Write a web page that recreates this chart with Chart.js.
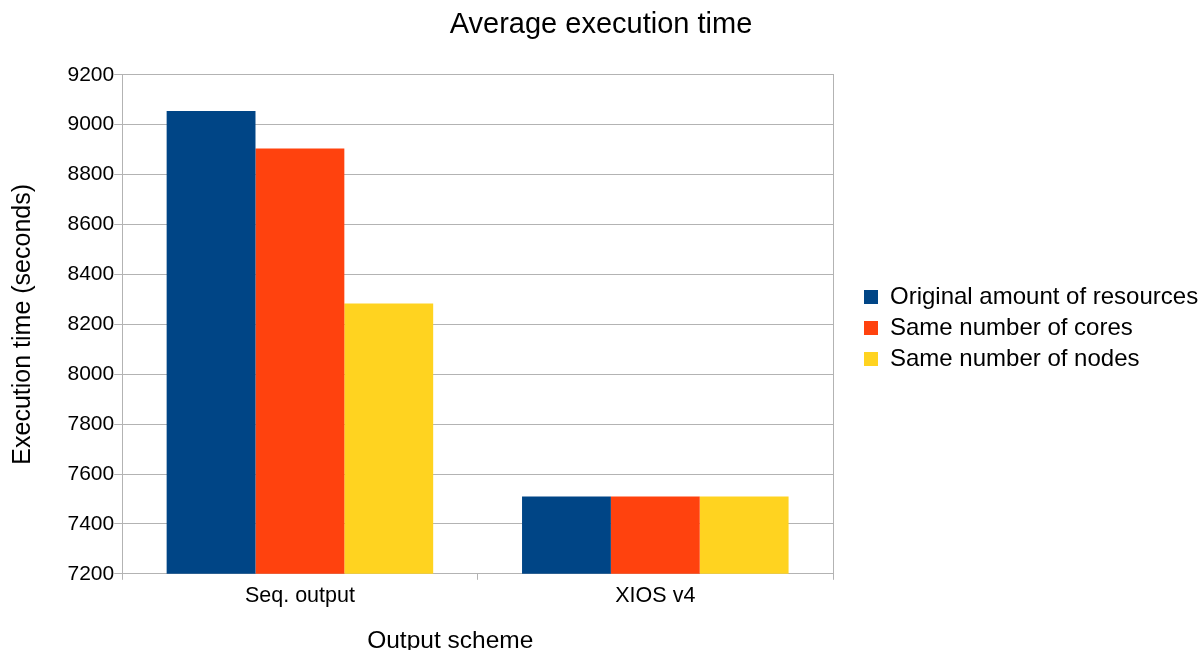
<!DOCTYPE html>
<html>
<head>
<meta charset="utf-8">
<script src="https://cdn.jsdelivr.net/npm/chart.js@4"></script>
<style>
	html, body { margin: 0; padding: 0; background: #ffffff; }
	#wrap { width: 1202px; height: 650px; }
</style>
</head>
<body>
<div id="wrap"><canvas id="chart" width="1202" height="650"></canvas></div>
<script>

const categories = [ 'Seq. output', 'XIOS v4' ];
const seriesNames = [ 'Original amount of resources', 'Same number of cores', 'Same number of nodes' ];
const originalResources = [ 9055, 7510 ];
const sameCores = [ 8905, 7510 ];
const sameNodes = [ 8283, 7510 ];
const colours = [ '#004586', '#ff420e', '#ffd320' ];

const font = 'Liberation Sans';
const gridColour = '#b3b3b3';
const xTitle = 'Output scheme';
const xTitleSize = 24.5;
const yTickSize = 21;

Chart.defaults.font.family = font;
Chart.defaults.color = '#000000';

// the x axis title is centred across tick labels + plot, not the plot alone
const xTitlePlugin = {
	id: 'xTitle',
	afterDraw ( chart ) {

		const { ctx, chartArea, scales } = chart;
		const yScale = scales.y;

		ctx.save();
		ctx.font = yTickSize + 'px "' + font + '"';
		const widest = Math.max( ...yScale.ticks.map( t => ctx.measureText( String( t.value ) ).width ) );
		const left = chartArea.left - yScale.options.grid.tickLength - widest;

		ctx.font = xTitleSize + 'px "' + font + '"';
		ctx.fillStyle = '#000000';
		ctx.textAlign = 'center';
		ctx.textBaseline = 'middle';
		ctx.fillText( xTitle, ( left + chartArea.right ) / 2, scales.x.bottom - xTitleSize * 1.2 / 2 );
		ctx.restore();

	}
};

const config = {
	type: 'bar',
	data: {
		labels: categories,
		datasets: [ originalResources, sameCores, sameNodes ].map( ( values, i ) => ( {
			label: seriesNames[ i ],
			data: values,
			backgroundColor: colours[ i ],
			borderWidth: 0,
			categoryPercentage: 0.75,
			barPercentage: 1
		} ) )
	},
	options: {
		responsive: false,
		animation: false,
		layout: {
			padding: { left: 4, right: 4, top: 0, bottom: -6 }
		},
		plugins: {
			tooltip: { enabled: false },
			title: {
				display: true,
				text: 'Average execution time',
				font: { size: 29, weight: 'normal' },
				padding: { top: 8, bottom: 32 }
			},
			legend: {
				position: 'right',
				maxWidth: 341,
				labels: {
					boxWidth: 14,
					boxHeight: 14,
					padding: 7,
					font: { size: 24 }
				}
			}
		},
		scales: {
			x: {
				grid: {
					display: true,
					drawOnChartArea: false,
					color: gridColour,
					tickLength: 6
				},
				border: { color: gridColour },
				ticks: { font: { size: 21.5 }, padding: 3 },
				// keeps the room, the plugin draws the text
				title: {
					display: true,
					text: xTitle,
					color: 'rgba(0,0,0,0)',
					font: { size: xTitleSize },
					padding: { top: 15, bottom: 0 }
				}
			},
			y: {
				min: 7200,
				max: 9200,
				ticks: {
					stepSize: 200,
					font: { size: yTickSize },
					padding: 0,
					callback: v => String( v )
				},
				grid: { color: gridColour, tickLength: 8 },
				border: { color: gridColour },
				title: {
					display: true,
					text: 'Execution time (seconds)',
					font: { size: 25 },
					padding: { top: 4.5, bottom: 29 }
				}
			},
			// right-hand frame of the plot, also spaces the legend away
			y2: {
				position: 'right',
				min: 7200,
				max: 9200,
				ticks: { display: false },
				grid: { display: false },
				border: { display: true, color: gridColour },
				afterFit: axis => { axis.width = 24; }
			}
		}
	},
	plugins: [ xTitlePlugin ]
};

new Chart( document.getElementById( 'chart' ), config );

</script>
</body>
</html>
